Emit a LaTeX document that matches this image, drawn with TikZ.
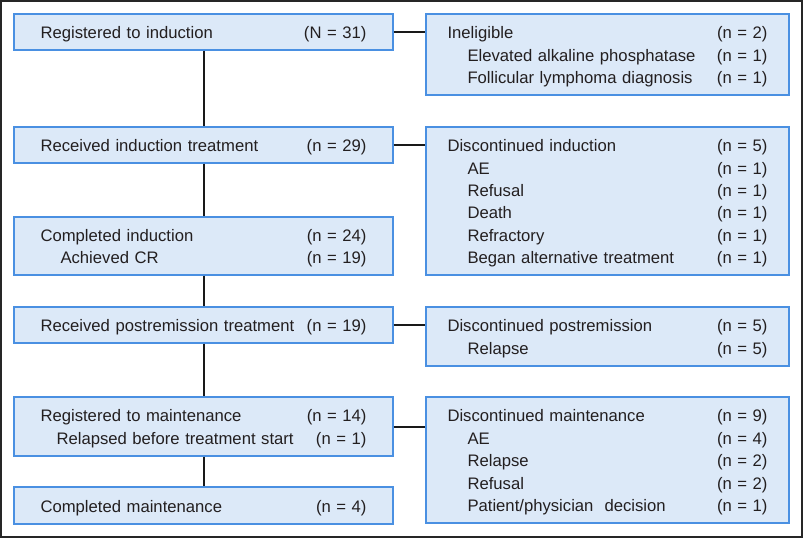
\documentclass[tikz,border=0pt]{standalone}
\usepackage{fontspec}
\setmainfont{Liberation Sans}
\usepackage{xcolor}
\usetikzlibrary{positioning}
\definecolor{boxfill}{RGB}{220,233,248}
\definecolor{boxline}{RGB}{74,144,226}
\definecolor{txtgray}{RGB}{35,31,32}
\newcommand{\fcgap}{\hspace{0pt plus 1filll}}
\newcommand{\fcsub}{\hspace*{15pt}}

\begin{document}
\begin{tikzpicture}[x=0.75pt, y=-0.75pt,
                    frame/.style={line width=1.5pt, black!85},
                    flowbox/.style={draw=boxline, fill=boxfill, line width=1.1pt, inner sep=0pt,
                                    align=left, text=txtgray, font=\fontsize{12.5}{16.8}\selectfont,
                                    execute at begin node={\rule{0pt}{12.5pt}}},
                    lbox/.style={flowbox, minimum width=284.25pt, text width=244.5pt},
                    rbox/.style={flowbox, minimum width=272.25pt, text width=240pt},
                    link/.style={line width=1.5pt, black!90},
                   ]

\useasboundingbox (0,0) rectangle (803,538);
\draw[frame] (1,1) rectangle (801.5,536.5);

% main flow
\node[lbox, minimum height=27pt] (reg) at (203.5,32) {Registered to induction\fcgap(N = 31)};
\node[lbox, minimum height=27pt] (recind) at (203.5,145) {Received induction treatment\fcgap(n = 29)};
\node[lbox, minimum height=43.5pt] (compind) at (203.5,246)
     {Completed induction\fcgap(n = 24)\\\fcsub Achieved CR\fcgap(n = 19)};
\node[lbox, minimum height=27pt] (recpost) at (203.5,325) {Received postremission treatment\fcgap(n = 19)};
\node[lbox, minimum height=44.25pt] (regmaint) at (203.5,426.5)
     {Registered to maintenance\fcgap(n = 14)\\\hspace*{12pt}Relapsed before treatment start\fcgap(n = 1)};
\node[lbox, minimum height=27.75pt] (compmaint) at (203.5,505.5) {Completed maintenance\fcgap(n = 4)};

% off-study boxes
\node[rbox, minimum height=60.75pt] (inelig) at (607.5,54.5)
     {Ineligible\fcgap(n = 2)\\
      \fcsub Elevated alkaline phosphatase\fcgap(n = 1)\\
      \fcsub Follicular lymphoma diagnosis\fcgap(n = 1)};
\node[rbox, minimum height=111pt] (discind) at (607.5,201)
     {Discontinued induction\fcgap(n = 5)\\
      \fcsub AE\fcgap(n = 1)\\
      \fcsub Refusal\fcgap(n = 1)\\
      \fcsub Death\fcgap(n = 1)\\
      \fcsub Refractory\fcgap(n = 1)\\
      \fcsub Began alternative treatment\fcgap(n = 1)};
\node[rbox, minimum height=44.25pt] (discpost) at (607.5,336.5)
     {Discontinued postremission\fcgap(n = 5)\\
      \fcsub Relapse\fcgap(n = 5)};
\node[rbox, minimum height=94.5pt] (discmaint) at (607.5,460)
     {Discontinued maintenance\fcgap(n = 9)\\
      \fcsub AE\fcgap(n = 4)\\
      \fcsub Relapse\fcgap(n = 2)\\
      \fcsub Refusal\fcgap(n = 2)\\
      \fcsub Patient/physician\ \ decision\fcgap(n = 1)};

\draw[link] (reg.south) -- (recind.north);
\draw[link] (recind.south) -- (compind.north);
\draw[link] (compind.south) -- (recpost.north);
\draw[link] (recpost.south) -- (regmaint.north);
\draw[link] (regmaint.south) -- (compmaint.north);

\draw[link] (reg.east) -- (reg.east -| inelig.west);
\draw[link] (recind.east) -- (recind.east -| discind.west);
\draw[link] (recpost.east) -- (recpost.east -| discpost.west);
\draw[link] (regmaint.east) -- (regmaint.east -| discmaint.west);

\end{tikzpicture}
\end{document}
